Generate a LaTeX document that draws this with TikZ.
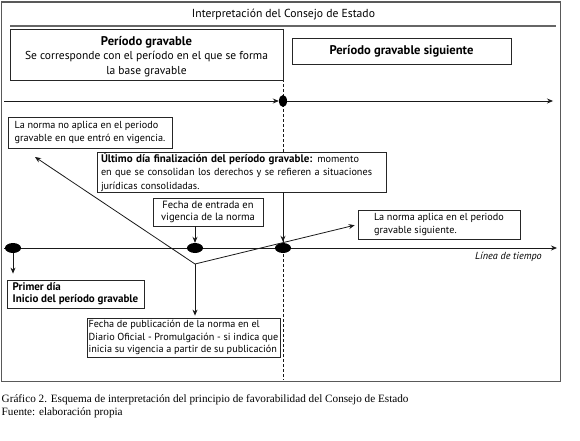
\documentclass[tikz,border=0pt]{standalone}
\usepackage{fontspec}
\setmainfont{PT Sans}
\newfontfamily\capfont{Liberation Serif}
\usetikzlibrary{arrows.meta,shapes.geometric}
\newcommand\bigbf[1]{{\fontsize{12.6}{14.5}\selectfont\bfseries #1}}
\newcommand\smbf[1]{{\fontsize{11}{12.2}\selectfont\bfseries #1}}
\tikzset{
  box/.style={draw=black!85, fill=white, line width=0.8pt, rectangle, inner sep=0pt},
  big/.style={font=\fontsize{11.5}{14.5}\selectfont},
  small/.style={font=\fontsize{10.2}{12.2}\selectfont},
  dot/.style={ellipse, fill=black, draw=none, inner sep=0pt, minimum width=16pt, minimum height=10pt},
  tdot/.style={ellipse, fill=black, draw=none, inner sep=0pt, minimum width=8pt, minimum height=12pt},
  arr/.style={-{Stealth[length=6pt,width=5pt]}, line width=0.8pt, draw=black!90},
  ln/.style={line width=0.8pt, draw=black!90},
  caption/.style={font=\capfont\fontsize{11.2}{13}\selectfont, anchor=west, inner sep=0pt},
}
\begin{document}
\begin{tikzpicture}[x=1pt,y=-1pt]
\useasboundingbox (0,0) rectangle (580,441);
% frame
\draw[draw=black!65, line width=1.3pt] (1.5,2) rectangle (560.5,381.5);
\node[font=\fontsize{11.65}{14}\selectfont, inner sep=0pt] (title) at (283.5,15) {Interpretación del Consejo de Estado};
\coordinate (tl1) at (10,26);
\coordinate (tl2) at (556,26);
\draw[draw=black!60, line width=1.2pt] (tl1) -- (tl2);
% dashed divider
\coordinate (dv1) at (283,29);
\coordinate (dv2) at (283,380);
\draw[ln, line width=0.7pt, dash pattern=on 3pt off 2pt] (dv1) -- (dv2);
% top boxes
\node[box, big, align=center, minimum width=273pt, minimum height=51pt] (pg) at (146.5,54.5)
  {\rule{0pt}{13pt}\bigbf{Período gravable}\\Se corresponde con el período en el que se forma\\la base gravable};
\node[box, big, minimum width=219pt, minimum height=26pt] (pgs) at (401.5,51)
  {\bigbf{Período gravable siguiente}};
% top timeline
\coordinate (ts) at (4,101);
\node[tdot] (td) at (283,101) {};
\coordinate (te) at (553,101);
\draw[arr] (ts) -- (td.west);
\draw[arr] (td.east) -- (te);
% middle boxes
\node[box, small, align=left, minimum width=164pt, minimum height=31pt] (noap) at (90,132.5)
  {La norma no aplica en el periodo\\gravable en que entró en vigencia.};
\node[box, font=\fontsize{10.2}{13.3}\selectfont, align=left, text width=281pt, minimum width=289pt, minimum height=40pt] (ult) at (241.5,172)
  {\smbf{Último día finalización del período gravable:} momento\\en que se consolidan los derechos y se refieren a situaciones\\jurídicas consolidadas.};
\node[box, font=\fontsize{10.5}{11.8}\selectfont, align=center, minimum width=110pt, minimum height=28pt] (fent) at (208,212)
  {Fecha de entrada en\\vigencia de la norma};
\node[box, small, align=left, minimum width=162pt, minimum height=29pt] (ap) at (439,224.5)
  {La norma aplica en el periodo\\gravable siguiente.};
% main timeline
\coordinate (ms) at (4,248);
\coordinate (me) at (557,248);
\draw[arr] (ms) -- (me);
\node[dot] (d0) at (13,248) {};
\node[dot] (d1) at (195,248) {};
\node[dot] (d2) at (283,248) {};
\node[font=\fontsize{10.2}{12}\selectfont\itshape, anchor=east, inner sep=0pt] (lt) at (542,257) {Línea de tiempo};
% lower boxes
\node[box, font=\fontsize{11}{12.2}\selectfont\bfseries, align=left, minimum width=137pt, minimum height=28pt] (prim) at (75.5,294)
  {Primer día\\Inicio del período gravable};
\node[box, small, align=left, minimum width=193pt, minimum height=39pt] (fpub) at (183.5,337.5)
  {Fecha de publicación de la norma en el\\Diario Oficial - Promulgación - si indica que\\inicia su vigencia a partir de su publicación};
% connectors
\draw[arr, shorten >=6pt] (d0.south) -- (d0.south |- prim.north);
\draw[arr] (fent.south -| d1) -- (d1.north);
\draw[arr, shorten >=1pt] (ult.south -| d2) -- (d2.north);
\coordinate (hub) at (195,264);
\coordinate (tip1) at (35,157);
\draw[arr] (hub) -- (tip1);
\draw[arr, shorten >=3pt] (hub) -- (ap.west);
\draw[arr, shorten >=2pt] (hub) -- (hub |- fpub.north);
% caption
\node[caption] (cap1) at (1.5,400) {Gráfico 2. Esquema de interpretación del principio de favorabilidad del Consejo de Estado};
\node[caption] (cap2) at (1.5,413) {Fuente: elaboración propia};
\end{tikzpicture}
\end{document}
